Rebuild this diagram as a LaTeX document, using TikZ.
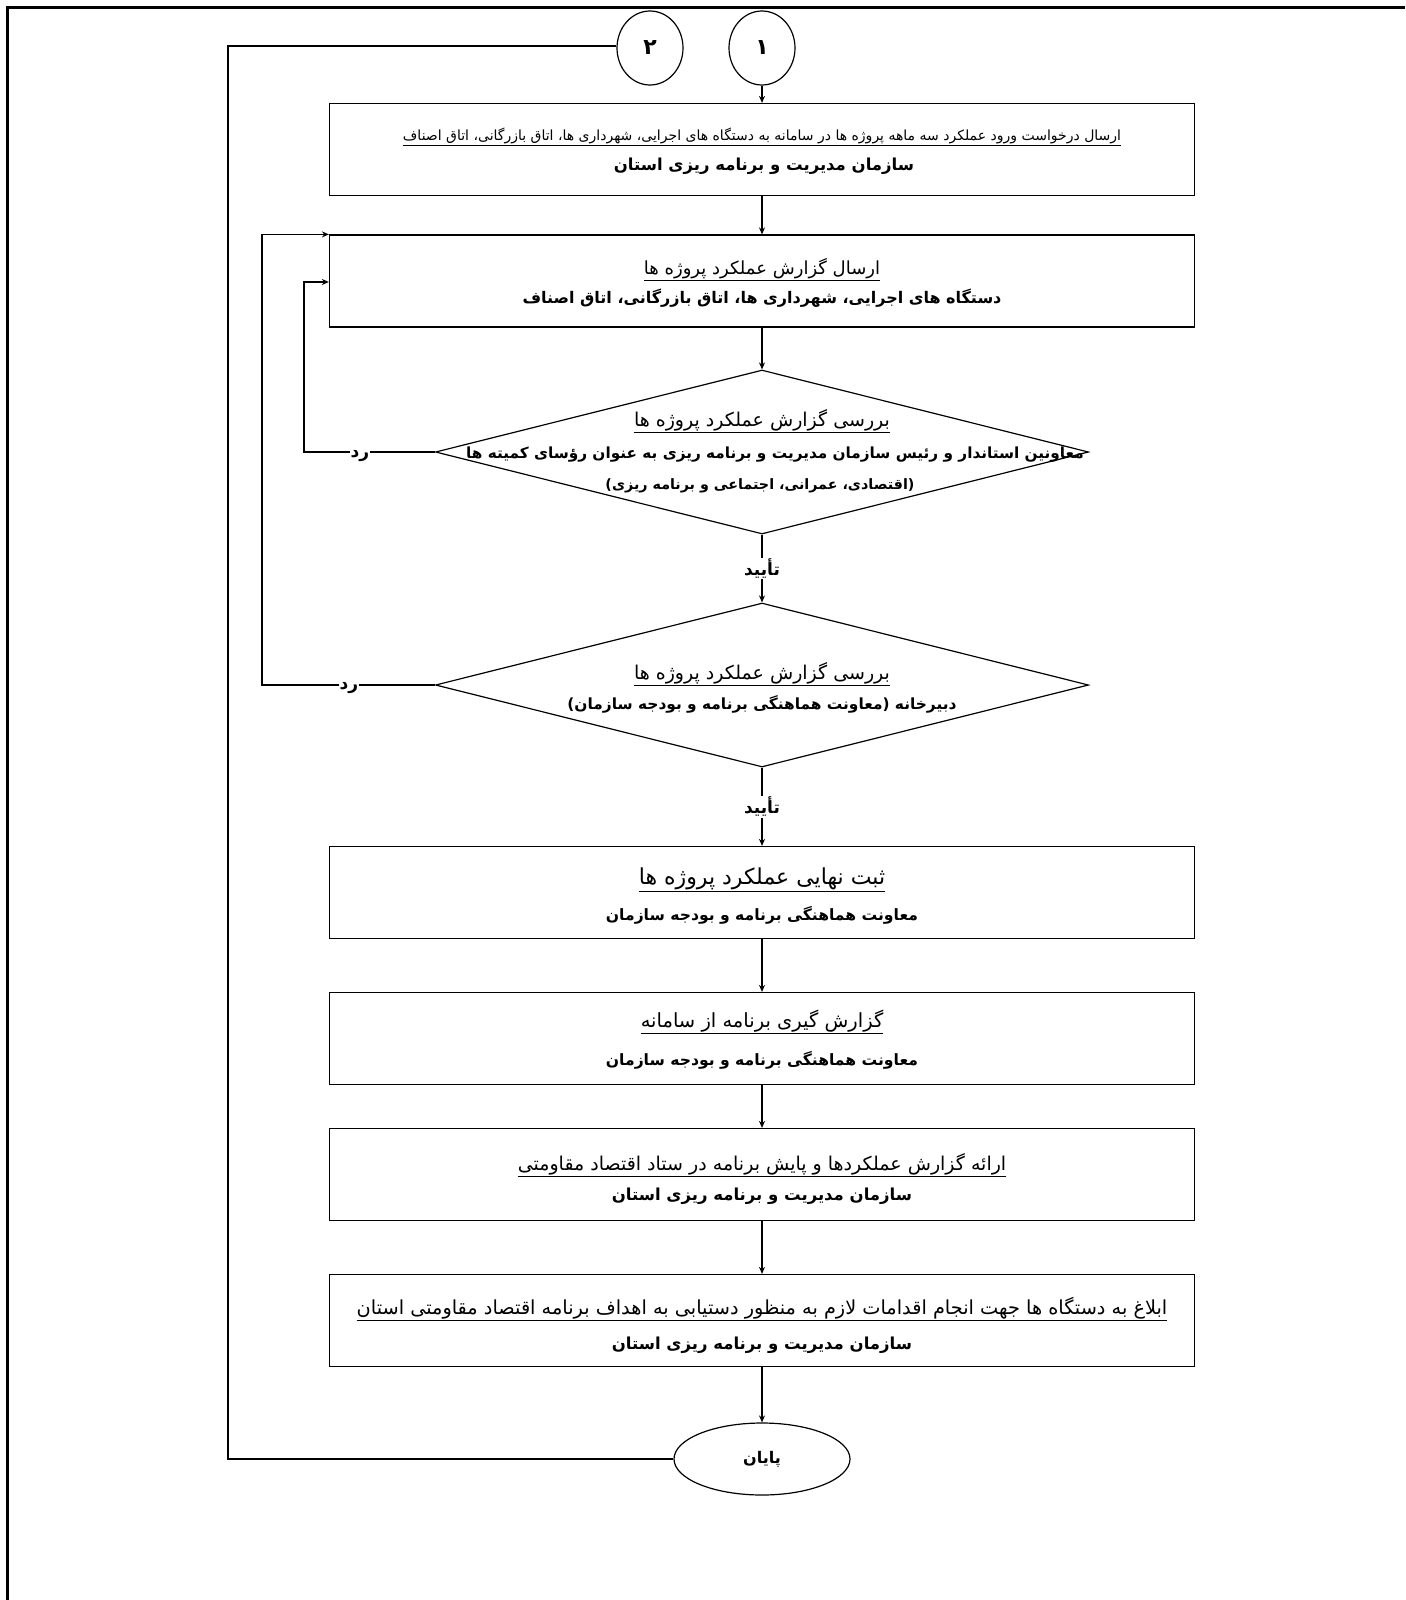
\documentclass[tikz,border=0pt]{standalone}
\usepackage{fontspec}
\usetikzlibrary{arrows.meta,shapes.geometric}
\TeXXeTstate=1
\newfontfamily\fa[Script=Arabic]{DejaVu Sans}
\newcommand\ulfa[1]{\underline{\beginR #1\endR}}
\newcommand\rlfa[1]{\beginR #1\endR}
\tikzset{
  ln/.style={line width=1.2pt},
  arr/.style={ln,-{Stealth[length=7pt,width=6pt]}},
  box/.style={draw,ln,rectangle,minimum width=865pt,minimum height=92pt,inner sep=0pt},
  dec/.style={draw,ln,diamond,minimum width=653pt,minimum height=164pt,inner sep=0pt},
  conn/.style={draw,ln,ellipse,minimum width=66pt,minimum height=74pt,inner sep=0pt,font=\fa\bfseries\fontsize{22}{24}\selectfont},
  term/.style={draw,ln,ellipse,minimum width=176pt,minimum height=72pt,inner sep=0pt,font=\fa\bfseries\fontsize{16}{20}\selectfont},
  tr/.style={inner sep=1pt,font=\fa\fontsize{#1}{#1}\selectfont},
  tb/.style={inner sep=1pt,font=\fa\bfseries\fontsize{#1}{#1}\selectfont},
  lab/.style={fill=white,inner sep=1pt,font=\fa\bfseries\fontsize{17}{19}\selectfont},
}
\begin{document}
\begin{tikzpicture}[x=1pt,y=-1pt]
\useasboundingbox (0,0) rectangle (1405,1600);
\draw[line width=3pt] (7,1600) -- (7,8) -- (1405,8);

% shapes
\node[conn] (c1) at (762,48) {\rlfa{۱}};
\node[conn] (c2) at (650,48) {\rlfa{۲}};
\node[box] (b1) at (762,149.5) {};
\node[box] (b2) at (762,281) {};
\node[dec] (d1) at (762,452) {};
\node[dec] (d2) at (762,685) {};
\node[box] (b3) at (762,892.5) {};
\node[box] (b4) at (762,1038.5) {};
\node[box] (b5) at (762,1174.5) {};
\node[box] (b6) at (762,1320.5) {};
\node[term] (e) at (762,1459) {\rlfa{پایان}};

% texts
\node[tr=14] (t1a) at (762,137) {\ulfa{ارسال درخواست ورود عملکرد سه ماهه پروژه ها در سامانه به دستگاه های اجرایی، شهرداری ها، اتاق بازرگانی، اتاق اصناف}};
\node[tb=16.5] (t1b) at (764,166) {\rlfa{سازمان مدیریت و برنامه ریزی استان}};
\node[tr=18] (t2a) at (762,270) {\ulfa{ارسال گزارش عملکرد پروژه ها}};
\node[tb=16] (t2b) at (762,298) {\rlfa{دستگاه های اجرایی، شهرداری ها، اتاق بازرگانی، اتاق اصناف}};
\node[tr=19] (t3a) at (762,421) {\ulfa{بررسی گزارش عملکرد پروژه ها}};
\node[tb=15.3] (t3b) at (775,455) {\rlfa{معاونین استاندار و رئیس سازمان مدیریت و برنامه ریزی به عنوان رؤسای کمیته ها}};
\node[tb=14.3] (t3c) at (760,486) {\rlfa{(اقتصادی، عمرانی، اجتماعی و برنامه ریزی)}};
\node[tr=19] (t4a) at (762,674) {\ulfa{بررسی گزارش عملکرد پروژه ها}};
\node[tb=15.4] (t4b) at (762,704) {\rlfa{دبیرخانه (معاونت هماهنگی برنامه و بودجه سازمان)}};
\node[tr=22] (t5a) at (762,880) {\ulfa{ثبت نهایی عملکرد پروژه ها}};
\node[tb=15.6] (t5b) at (762,915) {\rlfa{معاونت هماهنگی برنامه و بودجه سازمان}};
\node[tr=19.5] (t6a) at (762,1022) {\ulfa{گزارش گیری برنامه از سامانه}};
\node[tb=15.6] (t6b) at (762,1060) {\rlfa{معاونت هماهنگی برنامه و بودجه سازمان}};
\node[tr=19] (t7a) at (762,1165) {\ulfa{ارائه گزارش عملکردها و پایش برنامه در ستاد اقتصاد مقاومتی}};
\node[tb=16.5] (t7b) at (762,1196) {\rlfa{سازمان مدیریت و برنامه ریزی استان}};
\node[tr=19.3] (t8a) at (762,1309) {\ulfa{ابلاغ به دستگاه ها جهت انجام اقدامات لازم به منظور دستیابی به اهداف برنامه اقتصاد مقاومتی استان}};
\node[tb=16.5] (t8b) at (762,1345) {\rlfa{سازمان مدیریت و برنامه ریزی استان}};

% coordinates for loops
\coordinate (r1) at (304,452);
\coordinate (r1t) at (304,282);
\coordinate (r2) at (262,685);
\coordinate (lp) at (228,46);

% connectors
\draw[arr] (c1) -- (b1);
\draw[arr] (b1) -- (b2);
\draw[arr] (b2) -- (d1);
\draw[arr] (d1.south) -- (d2.north) node[lab,pos=0.5] (y1) {\rlfa{تأیید}};
\draw[arr] (d2.south) -- (b3.north) node[lab,pos=0.5] (y2) {\rlfa{تأیید}};
\draw[arr] (b3) -- (b4);
\draw[arr] (b4) -- (b5);
\draw[arr] (b5) -- (b6);
\draw[arr] (b6) -- (e);
\draw[arr] (d1.west) -- (r1) -- (r1t) -- (b2.west |- r1t);
\draw[arr] (d2.west) -- (r2) |- (b2.north west);
\draw[ln] (e.west) -| (lp) -- (c2.west |- lp);
\node[lab] (n1) at (360,456) {\rlfa{رد}};
\node[lab] (n2) at (349,688) {\rlfa{رد}};
\end{tikzpicture}
\end{document}
